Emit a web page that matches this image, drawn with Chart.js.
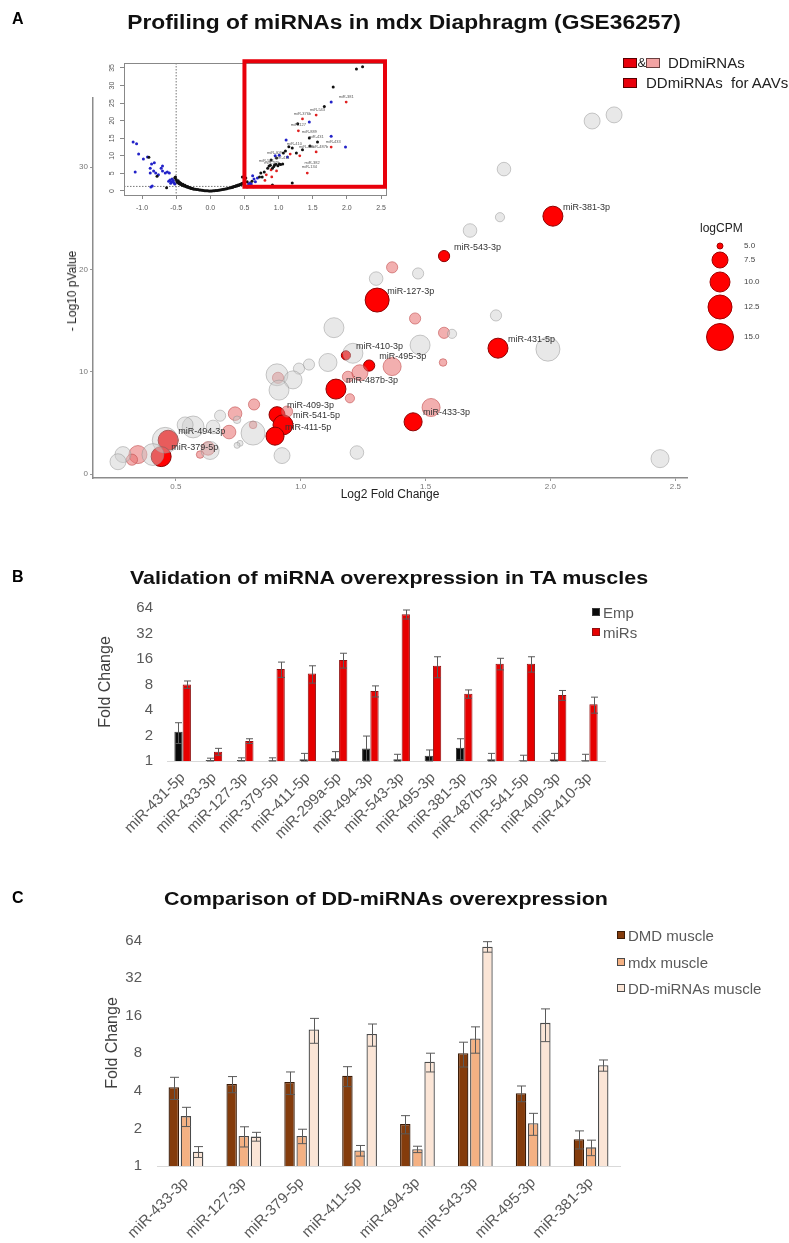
<!DOCTYPE html>
<html><head><meta charset="utf-8">
<script src="https://cdn.jsdelivr.net/npm/chart.js@4.4.1/dist/chart.umd.min.js"></script>
<style>
body{margin:0;width:789px;height:1243px;position:relative;background:#fff;font-family:"Liberation Sans",Arial,sans-serif;overflow:hidden}
canvas{position:absolute}
.t{position:absolute;white-space:nowrap;z-index:3;line-height:1}
.sq{position:absolute;box-sizing:border-box;z-index:3}
</style></head><body>
<script>
// ---------------- Panel A data ----------------
// [log2FC, -log10 p, logCPM]
const grayBubbles = [
 [2.167,34.5,7.5],[2.255,35.1,7.5],[1.814,29.8,6.9],[1.798,25.1,5.8],[1.678,23.8,6.9],
 [1.470,19.6,6.3],[1.302,19.1,6.9],[1.133,14.3,10],[1.782,15.5,6.3],[1.606,13.7,5.8],
 [1.478,12.6,10],[1.990,12.2,12.5],[2.439,1.5,8.8],[1.225,2.1,6.9],[0.925,1.8,7.5],
 [1.209,11.8,10],[1.109,10.9,8.8],[1.033,10.7,6.3],[0.993,10.3,6.3],[0.905,9.7,11.2],
 [0.969,9.2,8.8],[0.913,8.2,10],[0.809,4.0,12.5],[0.569,4.6,11.2],[0.537,4.8,7.5],
 [0.649,4.6,6.9],[0.677,5.7,6.3],[0.745,5.3,5.4],[0.457,3.3,14],[0.408,1.9,11.2],
 [0.637,2.3,8.8],[0.288,1.9,7.5],[0.268,1.2,7.5],[0.757,3.0,5],[0.745,2.8,5]
];
const pinkBubbles = [
 [1.366,20.2,6.3],[1.458,15.2,6.3],[1.574,13.8,6.3],[1.570,10.9,5.4],[1.366,10.5,8.8],
 [1.522,6.5,8.8],[0.909,9.4,6.3],[1.189,9.5,6.3],[1.237,9.9,7.5],[1.197,7.4,5.8],
 [0.813,6.8,6.3],[0.945,6.1,6.3],[0.809,4.8,5.4],[0.737,5.9,6.9],[0.713,4.1,6.9],
 [0.629,2.5,6.9],[0.597,1.9,5.4],[0.348,1.9,8.8],[0.324,1.4,6.3]
];
const redNames = ['miR-381-3p','miR-543-3p','miR-127-3p','miR-431-5p','miR-410-3p','miR-495-3p','miR-487b-3p','miR-409-3p','miR-541-5p','miR-411-5p','miR-433-3p','miR-494-3p','miR-379-5p'];
const redBubbles = [
 [2.010,25.2,10],[1.574,21.3,6.3],[1.306,17.0,12.5],[1.790,12.3,10],[1.181,11.6,5.8],
 [1.274,10.6,6.3],[1.141,8.3,10],[0.905,5.8,7.5],[0.929,4.8,10],[0.897,3.7,8.8],
 [1.450,5.1,8.8],[0.469,3.3,10],[0.441,1.7,10]
];
const aTicksX = [0.5,1.0,1.5,2.0,2.5];
const aTicksY = [0,10,20,30];
const logCPMBreaks = [5.0,7.5,10.0,12.5,15.0];
const logCPMRadii = [3,8,10,12,13.5];

// inset volcano (log2FC, -log10 p)
const insetBlue = [
 [-1.13,13.9],[-1.08,13.4],[-1.05,10.5],[-0.98,9.1],[-0.92,9.7],[-1.10,5.4],[-0.86,7.7],[-0.82,8.0],
 [-0.88,6.5],[-0.83,5.7],[-0.88,5.1],[-0.80,5.1],[-0.72,6.5],[-0.70,5.7],[-0.66,5.1],[-0.63,5.4],
 [-0.60,5.1],[-0.85,1.4],[-0.87,1.1],[-0.61,2.8],[-0.57,2.6],[-0.55,2.6],[-0.53,2.3],[-0.76,4.6],
 [-0.70,7.1],[-0.59,3.1],[-0.56,3.4],[-0.52,2.0],[-0.54,3.0],[-0.58,2.2],
 [1.77,25.3],[1.45,19.6],[1.77,15.6],[1.98,12.5],[1.11,14.5],[1.01,10.2],[0.69,3.7],[0.64,3.4],
 [0.58,2.3],[0.56,2.0],[0.60,2.0],[0.62,4.3],[1.13,9.7],[0.54,1.1],[0.95,10.0],[0.57,1.5],[0.63,1.2],[0.66,2.6]
];
const insetBlack = [
 [-0.50,3.3],[-0.49,2.7],[-0.48,2.4],[-0.47,2.9],[-0.46,2.1],[-0.45,2.5],[-0.44,1.9],[-0.43,2.2],
 [-0.42,1.8],[-0.41,1.6],[-0.40,1.9],[-0.39,1.5],[-0.38,1.4],[-0.37,1.6],[-0.36,1.3],[-0.35,1.2],
 [-0.34,1.1],[-0.33,1.3],[-0.32,1.0],[-0.31,0.9],[-0.30,1.0],[-0.29,0.8],[-0.28,0.8],[-0.27,0.7],
 [-0.26,0.7],[-0.25,0.6],[-0.24,0.6],[-0.22,0.5],[-0.20,0.45],[-0.18,0.4],[-0.16,0.3],[-0.14,0.25],
 [-0.12,0.2],[-0.10,0.15],[-0.08,0.1],[-0.06,0.08],[-0.04,0.05],[-0.02,0.03],[0.00,0.02],[0.02,0.03],
 [0.04,0.05],[0.06,0.08],[0.08,0.12],[0.10,0.16],[0.12,0.2],[0.14,0.28],[0.16,0.33],[0.18,0.4],
 [0.20,0.48],[0.22,0.55],[0.24,0.65],[0.26,0.75],[0.28,0.85],[0.30,0.95],[0.31,1.0],[0.32,1.1],
 [0.33,1.05],[0.34,1.2],[0.35,1.3],[0.36,1.25],[0.37,1.4],[0.38,1.5],[0.39,1.45],[0.40,1.6],
 [0.41,1.7],[0.42,1.65],[0.43,1.8],[0.44,1.9],[0.45,1.85],[0.46,2.1],[0.47,2.0],[0.48,2.3],
 [0.49,2.2],[0.50,2.5],[-0.52,3.8],[-0.90,9.6],[-0.78,4.2],[-0.64,0.9],[-0.51,4.0],
 [2.14,34.7],[2.23,35.3],[1.80,29.6],[1.67,24.0],[1.28,19.1],[1.45,15.1],[1.57,13.9],[1.46,12.8],
 [1.20,12.2],[1.26,10.8],[1.07,10.8],[0.97,9.4],[0.94,7.4],[1.01,7.7],[1.06,7.7],[0.86,7.1],
 [0.84,6.5],[0.91,6.5],[0.79,5.4],[0.74,5.1],[0.72,4.0],[0.61,2.8],[0.54,2.6],[0.76,4.0],
 [0.91,1.7],[1.20,2.3],[1.35,11.7],[0.52,3.7],[0.47,4.0],[0.89,8.8],[0.99,7.2],[1.03,7.5],
 [0.96,7.6],[0.93,7.0],[0.88,7.3],[1.10,11.4],[1.15,12.6]
];
const insetRed = [
 [1.99,25.3],[1.55,21.6],[1.35,20.5],[1.29,17.1],[1.77,12.5],[1.55,11.1],[1.17,10.5],[0.89,6.0],
 [0.97,5.7],[0.82,4.6],[0.90,4.0],[1.42,5.1],[1.31,10.0],[0.80,3.0],[0.75,1.2]
];
const insetLabels = [
 ['miR-381',1.99,26.8],['miR-376b',1.35,21.9],['miR-543',1.57,23.0],['miR-127',1.29,18.8],
 ['miR-889',1.45,16.8],['miR-431',1.55,15.4],['miR-433',1.80,13.9],['miR-410',1.23,13.4],
 ['miR-495',1.41,12.5],['miR-487b',1.60,12.5],['miR-409',0.94,10.8],['miR-541',0.82,8.5],
 ['miR-382',1.49,8.0],['miR-134',1.45,6.8],['miR-379',0.90,7.9],['miR-411',1.05,9.4]
];
const insetTicksX = [-1.0,-0.5,0.0,0.5,1.0,1.5,2.0,2.5];
const insetTicksY = [0,5,10,15,20,25,30,35];

// ---------------- Panel B data ----------------
const bCategories = ['miR-431-5p','miR-433-3p','miR-127-3p','miR-379-5p','miR-411-5p','miR-299a-5p','miR-494-3p','miR-543-3p','miR-495-3p','miR-381-3p','miR-487b-3p','miR-541-5p','miR-409-3p','miR-410-3p'];
const bEmp     = [2.22,1.03,1.03,1.02,1.05,1.08,1.40,1.05,1.15,1.43,1.05,1.02,1.05,1.02];
const bEmpErr  = [0.61,0.05,0.06,0.07,0.18,0.21,0.57,0.15,0.20,0.40,0.18,0.15,0.18,0.18];
const bMiRs    = [8.0,1.29,1.72,12.2,10.8,15.6,6.7,54,13.3,6.2,14.1,14.1,6.0,4.67];
const bMiRsErr = [0.8,0.12,0.11,2.5,2.5,3.1,1.0,6.6,3.7,0.7,2.2,2.9,0.8,1.0];
const foldTicks = [1,2,4,8,16,32,64];

// ---------------- Panel C data ----------------
const cCategories = ['miR-433-3p','miR-127-3p','miR-379-5p','miR-411-5p','miR-494-3p','miR-543-3p','miR-495-3p','miR-381-3p'];
const cDMD    = [4.27,4.53,4.7,5.28,2.17,8.0,3.82,1.64];
const cDMDErr = [0.86,0.67,0.96,0.96,0.36,1.8,0.55,0.27];
const cMdx    = [2.51,1.74,1.74,1.33,1.36,10.5,2.2,1.41];
const cMdxErr = [0.44,0.32,0.23,0.13,0.08,2.5,0.44,0.2];
const cDD     = [1.30,1.72,12.4,11.4,6.83,57,14.0,6.4];
const cDDErr  = [0.13,0.14,2.8,2.3,1.17,5.5,4.1,0.66];

// ---------------- helpers ----------------
Chart.defaults.font.family = '"Liberation Sans", Arial, sans-serif';
Chart.defaults.animation = false;
Chart.defaults.events = [];
Chart.defaults.plugins.legend.display = false;
Chart.defaults.plugins.tooltip.enabled = false;

function mk(left, top, w, h){
  const c = document.createElement('canvas');
  c.width = w; c.height = h;
  c.style.left = left+'px'; c.style.top = top+'px';
  c.style.width = w+'px'; c.style.height = h+'px';
  document.body.appendChild(c);
  return c.getContext('2d');
}
function txt(s, css){
  const d = document.createElement('div');
  d.className = 't'; d.textContent = s; d.style.cssText += css;
  document.body.appendChild(d); return d;
}
function sq(css){
  const d = document.createElement('div');
  d.className = 'sq'; d.style.cssText += css;
  document.body.appendChild(d); return d;
}
function rFromCPM(v){
  const b = logCPMBreaks, r = logCPMRadii;
  if (v <= b[0]) return r[0];
  for (let i=1;i<b.length;i++){
    if (v <= b[i]) return r[i-1] + (r[i]-r[i-1])*(v-b[i-1])/(b[i]-b[i-1]);
  }
  return r[r.length-1] + (v-b[b.length-1])*(r[r.length-1]-r[r.length-2])/(b[b.length-1]-b[b.length-2]);
}
const toBub = arr => arr.map(p => ({x:p[0], y:p[1], r:rFromCPM(p[2])}));
const toPt = arr => arr.map(p => ({x:p[0], y:p[1]}));
const setTicks = arr => (s => { s.ticks = arr.map(v => ({value:v})); });

// ---------------- Panel A: main bubble plot ----------------
const aPlugin = {
  id:'aExtra',
  afterDatasetsDraw(chart){
    const {ctx, scales:{x,y}} = chart;
    ctx.save();
    ctx.font = '9px "Liberation Sans", Arial, sans-serif';
    ctx.fillStyle = '#333'; ctx.textAlign = 'left'; ctx.textBaseline = 'middle';
    redBubbles.forEach((p,i) => {
      ctx.fillText(redNames[i], x.getPixelForValue(p[0]) + 10, y.getPixelForValue(p[1]) - 9);
    });
    // logCPM size legend
    ctx.fillStyle = '#222'; ctx.font = '12px "Liberation Sans", Arial, sans-serif';
    ctx.fillText('logCPM', 700, 229);
    const ly = [246,260,282,307,337];
    logCPMBreaks.forEach((v,i) => {
      ctx.beginPath(); ctx.arc(720, ly[i], rFromCPM(v), 0, Math.PI*2);
      ctx.fillStyle = '#ff0000'; ctx.fill();
      ctx.strokeStyle = '#a00000'; ctx.lineWidth = 1; ctx.stroke();
      ctx.fillStyle = '#444'; ctx.font = '8px "Liberation Sans", Arial, sans-serif';
      ctx.fillText(v.toFixed(1), 744, ly[i]);
    });
    ctx.restore();
  }
};
new Chart(mk(0,0,789,510), {
  type:'bubble',
  data:{datasets:[
    {data:toBub(grayBubbles), backgroundColor:'rgba(205,205,205,0.45)', borderColor:'rgba(140,140,140,0.45)', borderWidth:1, clip:false},
    {data:toBub(pinkBubbles), backgroundColor:'rgba(232,110,110,0.55)', borderColor:'rgba(190,70,70,0.55)', borderWidth:1, clip:false},
    {data:toBub(redBubbles), backgroundColor:'#ff0000', borderColor:'#8e0000', borderWidth:1, clip:false}
  ]},
  options:{
    responsive:false,
    layout:{padding:{left:0, top:98, right:102, bottom:0}},
    scales:{
      x:{type:'linear', min:0.168, max:2.547, afterBuildTicks:setTicks(aTicksX), afterFit:s=>{s.height=32;},
         grid:{drawOnChartArea:false, drawTicks:true, tickLength:3, color:'#999'},
         border:{display:true, color:'#8c8c8c', width:1.5},
         ticks:{font:{size:8}, color:'#777', padding:1, callback:v=>Number(v).toFixed(1), maxRotation:0}},
      y:{type:'linear', min:-0.39, max:36.75, afterBuildTicks:setTicks(aTicksY), afterFit:s=>{s.width=93;},
         grid:{drawOnChartArea:false, drawTicks:true, tickLength:3, color:'#999'},
         border:{display:true, color:'#8c8c8c', width:1.5},
         ticks:{font:{size:8}, color:'#777', padding:2}}
    }
  },
  plugins:[aPlugin]
});

// ---------------- Panel A: inset volcano ----------------
const insetPlugin = {
  id:'insetExtra',
  beforeDatasetsDraw(chart){
    const {ctx, chartArea:ca, scales:{x,y}} = chart;
    ctx.save();
    ctx.strokeStyle = '#777'; ctx.lineWidth = 1; ctx.setLineDash([1.5,1.5]);
    const vx = x.getPixelForValue(-0.5), hy = y.getPixelForValue(1.3);
    ctx.beginPath(); ctx.moveTo(vx, ca.top); ctx.lineTo(vx, ca.bottom); ctx.stroke();
    ctx.beginPath(); ctx.moveTo(ca.left, hy); ctx.lineTo(ca.right, hy); ctx.stroke();
    ctx.restore();
  },
  afterDatasetsDraw(chart){
    const {ctx, chartArea:ca, scales:{x,y}} = chart;
    ctx.save();
    ctx.font = '4px "Liberation Sans", Arial, sans-serif';
    ctx.fillStyle = '#555'; ctx.textAlign = 'center'; ctx.textBaseline = 'middle';
    insetLabels.forEach(l => ctx.fillText(l[0], x.getPixelForValue(l[1]), y.getPixelForValue(l[2])));
    // frame
    ctx.strokeStyle = '#888'; ctx.lineWidth = 1;
    ctx.strokeRect(ca.left+0.5, ca.top+0.5, ca.right-ca.left, ca.bottom-ca.top);
    // y tick labels (rotated, R style)
    ctx.fillStyle = '#555'; ctx.font = '7px "Liberation Sans", Arial, sans-serif';
    insetTicksY.forEach(v => {
      const py = y.getPixelForValue(v);
      ctx.save(); ctx.translate(ca.left-12, py); ctx.rotate(-Math.PI/2);
      ctx.fillText(String(v), 0, 0); ctx.restore();
    });
    // red highlight box
    ctx.strokeStyle = '#e8000b'; ctx.lineWidth = 4;
    const x0 = x.getPixelForValue(0.5), y0 = y.getPixelForValue(36.9), y1 = y.getPixelForValue(1.2);
    ctx.strokeRect(x0, y0, ca.right - x0 - 1, y1 - y0);
    ctx.restore();
  }
};
new Chart(mk(98,55,300,165), {
  type:'scatter',
  data:{datasets:[
    {data:toPt(insetBlack), backgroundColor:'#111', borderWidth:0, pointRadius:1.5},
    {data:toPt(insetBlue), backgroundColor:'#2323c8', borderWidth:0, pointRadius:1.5},
    {data:toPt(insetRed), backgroundColor:'#e02020', borderWidth:0, pointRadius:1.4}
  ]},
  options:{
    responsive:false,
    layout:{padding:{left:0, top:8, right:12, bottom:0}},
    scales:{
      x:{type:'linear', min:-1.264, max:2.573, afterBuildTicks:setTicks(insetTicksX), afterFit:s=>{s.height=25;},
         grid:{drawOnChartArea:false, drawTicks:true, tickLength:4, color:'#888'},
         border:{display:false},
         ticks:{font:{size:7}, color:'#555', padding:5, maxRotation:0, callback:v=>Number(v).toFixed(1)}},
      y:{type:'linear', min:-1.14, max:36.4, afterBuildTicks:setTicks(insetTicksY), afterFit:s=>{s.width=26;},
         grid:{drawOnChartArea:false, drawTicks:true, tickLength:4, color:'#888'},
         border:{display:false},
         ticks:{font:{size:7}, color:'rgba(0,0,0,0)', padding:2}}
    }
  },
  plugins:[insetPlugin]
});

// ---------------- error bar plugin for B & C ----------------
function errPlugin(errs, cap){
  return {
    id:'errbars',
    afterDatasetsDraw(chart){
      const {ctx, scales:{y}} = chart;
      ctx.save(); ctx.strokeStyle = '#5a5a5a'; ctx.lineWidth = 1;
      chart.data.datasets.forEach((ds, di) => {
        const meta = chart.getDatasetMeta(di);
        meta.data.forEach((bar, i) => {
          const v = ds.data[i], e = errs[di][i];
          const xt = Math.round(bar.x) + 0.5;
          const top = y.getPixelForValue(v + e);
          const bot = y.getPixelForValue(Math.max(v - e, 1.0001));
          ctx.beginPath();
          ctx.moveTo(xt, top); ctx.lineTo(xt, bot);
          ctx.moveTo(xt - cap/2, top); ctx.lineTo(xt + cap/2, top);
          ctx.moveTo(xt - cap/2, bot); ctx.lineTo(xt + cap/2, bot);
          ctx.stroke();
        });
      });
      ctx.restore();
    }
  };
}
function foldAxis(max, width, pad){
  return {type:'logarithmic', min:1, max:max, afterBuildTicks:setTicks(foldTicks), afterFit:s=>{s.width=width;},
    grid:{display:false, drawTicks:false}, border:{display:false},
    ticks:{font:{size:15}, color:'#595959', padding:pad, callback:v=>String(v)}};
}
function catAxis(height){
  return {afterFit:s=>{s.height=height;}, grid:{display:false, drawTicks:false},
    border:{display:true, color:'#d9d9d9', width:1},
    ticks:{font:{size:15}, color:'#595959', padding:8, minRotation:45, maxRotation:45, autoSkip:false}};
}

// ---------------- Panel B ----------------
new Chart(mk(0,560,789,300), {
  type:'bar',
  data:{labels:bCategories, datasets:[
    {label:'Emp', data:bEmp, backgroundColor:'#0a0a0a', borderColor:'#3a3a3a', borderWidth:1, categoryPercentage:0.53, barPercentage:1.0},
    {label:'miRs', data:bMiRs, backgroundColor:'#e60000', borderColor:'#8f1010', borderWidth:1, categoryPercentage:0.53, barPercentage:1.0}
  ]},
  options:{
    responsive:false,
    layout:{padding:{left:0, top:40, right:184, bottom:0}},
    scales:{ x:catAxis(99), y:foldAxis(79.5, 167, 14) }
  },
  plugins:[errPlugin([bEmpErr, bMiRsErr], 7)]
});

// ---------------- Panel C ----------------
new Chart(mk(0,880,789,363), {
  type:'bar',
  data:{labels:cCategories, datasets:[
    {label:'DMD muscle', data:cDMD, backgroundColor:'#843c0c', borderColor:'#3b1c08', borderWidth:1.3, categoryPercentage:0.63, barPercentage:0.86},
    {label:'mdx muscle', data:cMdx, backgroundColor:'#f4b183', borderColor:'#4a4a4a', borderWidth:1.3, categoryPercentage:0.63, barPercentage:0.86},
    {label:'DD-miRNAs muscle', data:cDD, backgroundColor:'#fbe5d6', borderColor:'#4a4a4a', borderWidth:1.3, categoryPercentage:0.63, barPercentage:0.86}
  ]},
  options:{
    responsive:false,
    layout:{padding:{left:0, top:45, right:169, bottom:0}},
    scales:{ x:catAxis(77), y:foldAxis(85, 157, 15) }
  },
  plugins:[errPlugin([cDMDErr, cMdxErr, cDDErr], 9)]
});

// ---------------- Text: panel letters, titles, axis titles, legends ----------------
txt('A', 'left:12px;top:11px;font-size:16px;font-weight:bold;color:#000');
txt('B', 'left:12px;top:569px;font-size:16px;font-weight:bold;color:#000');
txt('C', 'left:12px;top:890px;font-size:16px;font-weight:bold;color:#000');

txt('Profiling of miRNAs in mdx Diaphragm (GSE36257)', 'left:404px;top:12px;font-size:20px;font-weight:bold;color:#111;transform:translateX(-50%) scaleX(1.14)');
txt('Validation of miRNA overexpression in TA muscles', 'left:389px;top:568px;font-size:19px;font-weight:bold;color:#111;transform:translateX(-50%) scaleX(1.13)');
txt('Comparison of DD-miRNAs overexpression', 'left:386px;top:889px;font-size:19px;font-weight:bold;color:#111;transform:translateX(-50%) scaleX(1.13)');

txt('Log2 Fold Change', 'left:390px;top:488px;font-size:12px;color:#222;transform:translateX(-50%)');
txt('- Log10 pValue', 'left:72px;top:291px;font-size:12px;color:#222;transform:translate(-50%,-50%) rotate(-90deg)');
txt('Fold Change', 'left:105px;top:682px;font-size:16px;color:#404040;transform:translate(-50%,-50%) rotate(-90deg)');
txt('Fold Change', 'left:112px;top:1043px;font-size:16px;color:#404040;transform:translate(-50%,-50%) rotate(-90deg)');

// legend A
sq('left:623px;top:58px;width:14px;height:10px;background:#e8000b;border:1px solid #5a0000');
txt('&', 'left:637.5px;top:56px;font-size:13px;color:#222');
sq('left:646px;top:58px;width:14px;height:10px;background:#f3a3a3;border:1px solid #6a4040');
txt('DDmiRNAs', 'left:668px;top:55px;font-size:15px;color:#222');
sq('left:623px;top:78px;width:14px;height:10px;background:#e8000b;border:1px solid #5a0000');
txt('DDmiRNAs  for AAVs', 'left:646px;top:75px;font-size:15px;color:#222;white-space:pre');

// legend B
sq('left:592px;top:608px;width:8px;height:8px;background:#0a0a0a;border:1px solid #3a3a3a');
txt('Emp', 'left:603px;top:605px;font-size:15px;color:#595959');
sq('left:592px;top:628px;width:8px;height:8px;background:#e60000;border:1px solid #8f1010');
txt('miRs', 'left:603px;top:625px;font-size:15px;color:#595959');

// legend C
sq('left:617px;top:931px;width:8px;height:8px;background:#843c0c;border:1px solid #3b1c08');
txt('DMD muscle', 'left:628px;top:928px;font-size:15px;color:#595959');
sq('left:617px;top:958px;width:8px;height:8px;background:#f4b183;border:1px solid #4a4a4a');
txt('mdx muscle', 'left:628px;top:955px;font-size:15px;color:#595959');
sq('left:617px;top:984px;width:8px;height:8px;background:#fbe5d6;border:1px solid #4a4a4a');
txt('DD-miRNAs muscle', 'left:628px;top:981px;font-size:15px;color:#595959');
</script>
</body></html>
